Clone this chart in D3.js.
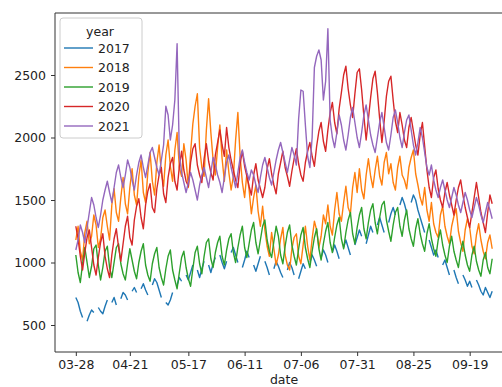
<!DOCTYPE html>
<html>
<head>
<meta charset="utf-8">
<script src="https://cdn.jsdelivr.net/npm/d3@7"></script>
<style>
  body { margin: 0; background: #fff; }
  svg { display: block; }
  text { font-family: "DejaVu Sans", sans-serif; }
</style>
</head>
<body>
<svg id="chart" width="502" height="387"></svg>
<script>
// Daily values per year, one entry per day starting at 03-28 (null = no record that day)
const years = ["2017", "2018", "2019", "2020", "2021"];
const startDay = "2017-03-28";
const xTickLabels = ["03-28", "04-21", "05-17", "06-11", "07-06", "07-31", "08-25", "09-19"];
const yTickValues = [500, 1000, 1500, 2000, 2500];

const values2017 = [
  720,680,610,560,null,530,580, 620,600,null,640,610,590,650, 700,null,680,720,660,null,710,
  760,740,700,null,770,800,760, null,790,830,780,740,null,820, 870,840,780,720,null,680,660,
  700,760,null,820,880,850,null, 900,860,920,980,null,940,880, 950,1010,null,980,920,990,1040,
  null,1060,1000,950,1010,null,1080, 1120,1060,1000,null,960,1020,1090, 1040,null,980,930,990,1050,null,
  1010,960,900,null,950,1010,970, 920,880,null,940,1000,960,900, null,870,930,990,950,null,1000,
  1060,1020,970,null,1040,1100,1060, 1000,null,1080,1140,1090,1030,null, 1120,1180,1120,1060,null,1140,1200,
  1260,1210,null,1150,1220,1290,1240, null,1300,1360,1300,1240,null,1320, 1390,1440,1380,null,1460,1520,1470,
  1400,null,1480,1540,1500,1420,1360, 1300,1240,null,1180,1120,1060,1100, 1040,null,980,1020,960,900,null,
  940,880,830,null,900,860,810, 850,800,null,860,820,770,740, 800,760,720,770
];
const values2018 = [
  1180,1290,1090,1020,1240,1330,1150, 1210,1380,1300,1120,1190,1360,1420, 1290,1180,1460,1590,1400,1330,1520,
  1680,1470,1390,1600,1750,1540,1460, 1690,1820,1560,1480,1720,1880,1650, 1540,1800,1940,1720,1610,1860,1980,
  1770,1650,1900,2040,1760,1690,1950, 1820,1600,1880,2110,2250,2350,1920, 1760,1690,2060,2310,2040,1820,1700,
  1920,2100,1830,1650,1900,1720,1580, 1690,1980,2200,1850,1640,1520,1710, 1580,1390,1520,1620,1410,1290,1450,
  1260,1130,1050,1240,1110,980,1060, 1190,1280,1060,980,940,1110,1200, 1230,1050,990,1140,1290,1130,1020,
  1190,1330,1260,1120,1210,1380,1310, 1460,1290,1220,1420,1560,1390,1330, 1480,1610,1440,1390,1600,1720,1560,
  1750,1580,1510,1700,1830,1690,1600, 1740,1850,1690,1620,1800,1880,1710, 1790,1640,1580,1760,1850,1700,1660,
  1590,1760,1840,1900,1710,1620,1520, 1460,1600,1420,1330,1480,1310,1240, 1200,1380,1450,1290,1210,1150,1290,
  1370,1430,1250,1160,1090,1260,1350, 1280,1130,1070,1220,1310,1180,1090, 1030,1160,1220,1110
];
const values2019 = [
  1060,920,840,990,1120,1000,880, 970,1110,1140,980,860,960,1090, 1130,960,880,1000,1120,1150,990,
  910,860,990,1110,1020,930,870, 1000,1090,1150,980,900,850,990, 1070,1120,960,880,820,950,1050,
  1100,940,860,790,920,1040,1090, 960,870,810,950,1080,1130,990, 910,1050,1160,1190,1030,960,1080,
  1160,1210,1050,980,1100,1190,1230, 1080,1000,1120,1220,1290,1120,1040, 1150,1260,1320,1160,1070,1180,1290,
  1340,1180,1090,1040,1170,1290,1210, 1060,990,1130,1240,1300,1140,1050, 980,1110,1220,1280,1120,1030,960,
  1090,1200,1270,1110,1020,1150,1250, 1320,1160,1080,1200,1300,1360,1190, 1110,1240,1340,1400,1230,1150,1280,
  1380,1440,1270,1190,1320,1420,1470, 1320,1230,1360,1460,1490,1340,1250, 1170,1300,1400,1440,1290,1210,1340,
  1420,1270,1190,1130,1270,1350,1230, 1150,1090,1230,1310,1190,1110,1050, 1180,1260,1140,1060,1000,1130,1210,
  1090,1020,960,1090,1170,1060,980, 930,1060,1130,1010,940,890,1020, 1080,960,910,1030
];
const values2020 = [
  1290,1190,1050,940,1080,1200,1260, 1120,980,900,1040,1160,1230,1050, 950,880,1060,1190,1270,1120,1010,
  1150,1290,1370,1200,1140,1340,1450, 1510,1360,1270,1460,1570,1630,1440, 1400,1590,1700,1760,1550,1480,1680,
  1790,1840,1650,1580,1770,1890,1740, 1650,1610,1800,1910,1950,1780,1700, 1640,1830,1950,1810,1720,1660,1860,
  1960,2060,1940,1850,2080,1920,1820, 1740,1660,1600,1790,1890,1770,1690, 1610,1540,1700,1790,1660,1590,1520,
  1600,1750,1830,1710,1620,1550,1710, 1800,1890,1760,1690,1610,1730,1830, 1910,1790,1700,1650,1800,1890,1960,
  1850,1770,1930,2050,2120,1970,1890, 2060,2200,2280,2120,2030,2230,2360, 2500,2570,2390,2260,2160,2350,2520,
  2550,2380,2170,1980,2150,2320,2470, 2530,2360,2150,1960,2130,2330,2450, 2490,2300,2130,2040,2200,2100,1980,
  1920,2080,2160,2050,1940,1860,2020, 2120,1930,1740,1600,1520,1680,1740, 1590,1500,1440,1560,1640,1540,1460,
  1380,1500,1600,1660,1540,1440,1360, 1280,1400,1520,1640,1520,1400,1320, 1240,1400,1540,1470
];
const values2021 = [
  1100,1180,1300,1240,1160,1280,1400, 1520,1460,1360,1280,1380,1500,1580, 1650,1560,1480,1600,1720,1780,1680,
  1600,1700,1820,1760,1660,1580,1700, 1800,1860,1760,1680,1780,1880,1920, 1840,1760,1700,1820,1940,2250,2180,
  1980,2100,2300,2750,1860,1720,1640, 1560,1640,1720,1660,1580,1500,1620, 1700,1760,1680,1600,1720,1840,1780,
  1700,1640,1560,1680,1800,1860,1760, 1680,1600,1720,1840,1900,1800,1720, 1660,1740,1700,1620,1560,1680,1780,
  1840,1760,1680,1620,1720,1820,1900, 1960,1880,1800,1720,1820,1920,1860, 1780,2150,2380,2370,2100,1850,1760,
  2000,2560,2650,2700,2620,2300,2450, 2870,2140,2000,1920,2040,2180,2100, 1980,1900,2020,2160,2240,2120,2000,
  1920,2040,2180,2260,2140,2020,1940, 1880,2000,2120,2200,2080,1960,1900, 2020,2160,2220,2120,2000,1920,2040,
  2140,2180,2060,1940,1860,1960,2080, 2000,1880,1760,1700,1780,1660,1580, 1520,1600,1660,1580,1500,1440,1520,
  1600,1540,1460,1400,1480,1560,1500, 1420,1360,1440,1520,1460,1380,1320, 1400,1480,1420,1350
];

const seriesValues = [values2017, values2018, values2019, values2020, values2021];
const palette = ["#1f77b4", "#ff7f0e", "#2ca02c", "#d62728", "#9467bd"];

const parseDay = d3.timeParse("%Y-%m-%d");
const start = parseDay(startDay);
const dayAt = i => d3.timeDay.offset(start, i);
const nDays = values2017.length;

const svg = d3.select("#chart");
const plot = { left: 55, right: 513, top: 13, bottom: 352 };

// x domain padded by 5% of the data span on each side
const first = dayAt(0), last = dayAt(nDays - 1);
const pad = (last - first) * 0.05;
const x = d3.scaleTime()
  .domain([new Date(+first - pad), new Date(+last + pad)])
  .range([plot.left, plot.right]);

const y = d3.scaleLinear()
  .domain([284, 2996])
  .range([plot.bottom, plot.top]);

// Series lines, drawn in year order
const line = d3.line()
  .defined(d => d.v !== null)
  .x(d => x(d.date))
  .y(d => y(d.v));

seriesValues.forEach((vals, k) => {
  const pts = vals.map((v, i) => ({ date: dayAt(i), v }));
  svg.append("path")
    .datum(pts)
    .attr("fill", "none")
    .attr("stroke", palette[k])
    .attr("stroke-width", 1.4)
    .attr("stroke-linejoin", "round")
    .attr("d", line);
});

// Axes frame
const frame = svg.append("g").attr("fill", "none").attr("stroke", "#333").attr("stroke-width", 1);
frame.append("line").attr("x1", plot.left).attr("x2", plot.left).attr("y1", plot.top).attr("y2", plot.bottom);
frame.append("line").attr("x1", plot.left).attr("x2", plot.right).attr("y1", plot.top).attr("y2", plot.top);
frame.append("line").attr("x1", plot.left).attr("x2", plot.right).attr("y1", plot.bottom).attr("y2", plot.bottom);

// x axis
const xTicks = xTickLabels.map(s => parseDay("2017-" + s));
const xAxis = svg.append("g")
  .attr("transform", `translate(0,${plot.bottom})`)
  .call(d3.axisBottom(x).tickValues(xTicks).tickFormat(d3.timeFormat("%m-%d")).tickSize(4).tickPadding(4));
xAxis.select(".domain").remove();
xAxis.selectAll("line").attr("stroke", "#333");
xAxis.selectAll("text").attr("font-size", 12.5).attr("fill", "#222").attr("font-family", "DejaVu Sans");

// y axis
const yAxis = svg.append("g")
  .attr("transform", `translate(${plot.left},0)`)
  .call(d3.axisLeft(y).tickValues(yTickValues).tickFormat(d3.format("d")).tickSize(4).tickPadding(5));
yAxis.select(".domain").remove();
yAxis.selectAll("line").attr("stroke", "#333");
yAxis.selectAll("text").attr("font-size", 12.5).attr("fill", "#222").attr("font-family", "DejaVu Sans");

// x axis title
svg.append("text")
  .attr("x", (plot.left + plot.right) / 2)
  .attr("y", 384)
  .attr("text-anchor", "middle")
  .attr("font-size", 12.5)
  .attr("fill", "#222")
  .text("date");

// Legend
const lg = svg.append("g");
lg.append("rect")
  .attr("x", 60).attr("y", 18).attr("width", 82).attr("height", 120).attr("rx", 3)
  .attr("fill", "#fff").attr("fill-opacity", 0.85)
  .attr("stroke", "#ccc").attr("stroke-width", 1);
lg.append("text")
  .attr("x", 100).attr("y", 31)
  .attr("text-anchor", "middle").attr("dominant-baseline", "central")
  .attr("font-size", 12.5).attr("fill", "#222")
  .text("year");
years.forEach((yr, k) => {
  const cy = 48 + k * 19.5;
  lg.append("line")
    .attr("x1", 64).attr("x2", 93).attr("y1", cy).attr("y2", cy)
    .attr("stroke", palette[k]).attr("stroke-width", 1.4);
  lg.append("text")
    .attr("x", 98).attr("y", cy)
    .attr("dominant-baseline", "central")
    .attr("font-size", 12.5).attr("fill", "#222")
    .text(yr);
});
</script>
</body>
</html>
